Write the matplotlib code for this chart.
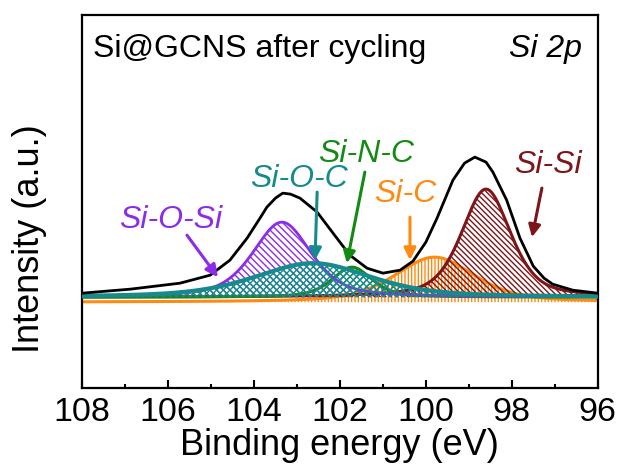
import numpy as np
import matplotlib
matplotlib.use('Agg')
import matplotlib.pyplot as plt

plt.rcParams['font.family'] = ['Liberation Sans', 'DejaVu Sans']
plt.rcParams['hatch.linewidth'] = 1.0

# measured envelope (binding energy eV, intensity a.u.)
env_energy = [108.0, 106.88, 105.72, 105.02, 104.56, 104.16, 103.86, 103.7, 103.5, 103.33,
              103.15, 102.93, 102.53, 102.16, 101.77, 101.37, 101.0, 100.6, 100.3, 100.0,
              99.74, 99.37, 99.1, 98.86, 98.6, 98.44, 98.12, 97.81, 97.5, 97.25,
              97.05, 96.58, 96.0]
env_int = [95, 99, 105, 113, 128, 150, 170, 181, 190, 195,
           194, 190, 176, 155, 133, 120, 115, 118, 127, 146,
           170, 208, 225, 231, 226, 216, 188, 150, 122, 110,
           104, 98, 95]

# fitted components
comp_names = ['Si-C', 'Si-Si', 'Si-N-C', 'Si-O-Si', 'Si-O-C']
comp_center = [99.8, 98.6, 101.72, 103.35, 102.63]
comp_height = [45, 108, 30, 75, 34]
comp_fwhm = [2.2, 1.35, 1.1, 1.6, 3.2]
comp_base = [86, 91, 91, 91, 91]
comp_color = ['#FF8A12', '#7E1518', '#138A13', '#8C2BEA', '#168A8C']
comp_hatch = ['|||||', '\\\\\\\\\\\\', '/////', '\\\\\\\\\\', 'xxxxx']
comp_lw = [2.2, 2.2, 2.2, 2.0, 3.0]

# label text positions and arrows (text xy, arrow tail, arrow head)
label_xy = [(100.49, 186), (97.16, 215), (101.40, 226), (105.95, 160), (102.95, 201)]
arrow_tail = [(100.37, 171), (97.30, 200), (101.42, 216), (105.56, 153), (102.53, 196)]
arrow_head = [(100.37, 128), (97.53, 151), (101.84, 125), (104.84, 111), (102.58, 128)]

energy = np.linspace(108, 96, 600)

def pv(x, c, h, w, eta=0.5):
    g = np.exp(-4 * np.log(2) * ((x - c) / w) ** 2)
    l = 1 / (1 + 4 * ((x - c) / w) ** 2)
    return h * (eta * l + (1 - eta) * g)

fig = plt.figure(figsize=(6.22, 4.70), dpi=100)
ax = fig.add_axes([0.132, 0.174, 0.829, 0.794])

for i in range(len(comp_names)):
    y = comp_base[i] + pv(energy, comp_center[i], comp_height[i], comp_fwhm[i])
    ax.fill_between(energy, comp_base[i], y, facecolor='none', edgecolor=comp_color[i],
                    hatch=comp_hatch[i], linewidth=0, zorder=2 + i)
    ax.plot(energy, y, color=comp_color[i], lw=comp_lw[i], zorder=2.5 + i)
    ax.text(label_xy[i][0], label_xy[i][1], comp_names[i], color=comp_color[i],
            fontsize=23, style='italic', ha='center', va='baseline', zorder=10)
    ax.annotate('', xy=arrow_head[i], xytext=arrow_tail[i],
                arrowprops=dict(arrowstyle='-|>', color=comp_color[i], lw=2.2,
                                mutation_scale=18, shrinkA=0, shrinkB=0), zorder=10)

ax.plot(env_energy, env_int, color='black', lw=2, zorder=9)

ax.text(107.74, 331, 'Si@GCNS after cycling', fontsize=23, ha='left', va='baseline')
ax.text(96.37, 331, 'Si 2p', fontsize=23, style='italic', ha='right', va='baseline')

ax.set_xlim(108, 96)
ax.set_ylim(0, 373)
ax.set_xticks([108, 106, 104, 102, 100, 98, 96])
ax.set_xticks(np.arange(96, 109, 1), minor=True)
ax.set_yticks([])
ax.tick_params(axis='x', which='major', direction='in', length=6, width=1.5,
               labelsize=24.5, pad=6)
ax.tick_params(axis='x', which='minor', direction='in', length=3, width=1.5)
for s in ax.spines.values():
    s.set_linewidth(1.6)

ax.set_xlabel('Binding energy (eV)', fontsize=26, labelpad=0)
ax.set_ylabel('Intensity (a.u.)', fontsize=26)
ax.yaxis.set_label_coords(-0.068, 0.40)

fig.savefig('out.png', dpi=100)
